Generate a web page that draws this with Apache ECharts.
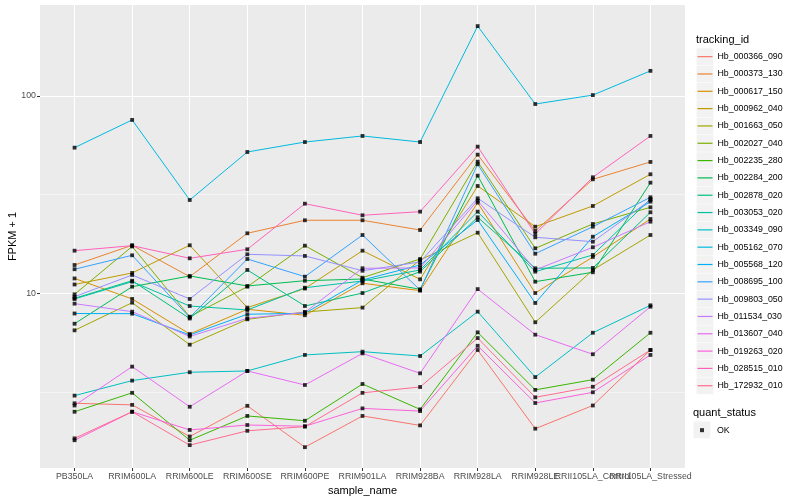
<!DOCTYPE html>
<html>
<head>
<meta charset="utf-8">
<script src="https://cdn.jsdelivr.net/npm/echarts@6/dist/echarts.min.js"></script>
<style>html,body{margin:0;padding:0;background:#fff}#c{width:800px;height:500px}</style>
</head>
<body>
<div id="c"></div>
<script>
const categories = ['PB350LA','RRIM600LA','RRIM600LE','RRIM600SE','RRIM600PE','RRIM901LA','RRIM928BA','RRIM928LA','RRIM928LE','RRII105LA_Control','RRII105LA_Stressed'];
const yTickValues = [10, 100];
const yMinorValues = [3.1623, 31.623];

const Hb_000366_090 = [2.77, 2.72, 1.88, 2.69, 1.66, 2.39, 2.14, 5.16, 2.06, 2.70, 5.16];
const Hb_000373_130 = [13.91, 17.51, 12.14, 20.14, 23.44, 23.44, 20.93, 50.4, 20.69, 37.8, 46.3];
const Hb_000617_150 = [11.89, 9.36, 6.22, 8.30, 7.74, 11.24, 10.31, 28.79, 10.03, 15.28, 23.8];
const Hb_000962_040 = [11.08, 12.68, 17.51, 8.46, 10.57, 16.44, 11.77, 34.98, 21.75, 27.7, 40.1];
const Hb_001663_050 = [6.49, 8.96, 5.49, 7.38, 8.04, 8.46, 14.75, 20.28, 7.13, 13.13, 19.74];
const Hb_002027_040 = [9.88, 17.27, 7.61, 10.80, 17.43, 12.0, 14.92, 46.45, 16.9, 22.45, 27.28];
const Hb_002235_280 = [2.51, 3.13, 1.80, 2.39, 2.26, 3.47, 2.58, 6.34, 3.24, 3.65, 6.31];
const Hb_002284_200 = [7.01, 10.80, 12.24, 10.89, 11.58, 11.81, 10.48, 39.45, 11.45, 12.78, 36.36];
const Hb_002878_020 = [9.43, 11.58, 7.45, 13.13, 8.62, 10.03, 12.87, 24.28, 13.39, 13.44, 25.74];
const Hb_003053_020 = [9.36, 11.45, 8.62, 8.23, 10.67, 11.54, 13.13, 25.92, 12.87, 15.64, 30.06];
const Hb_003349_090 = [3.03, 3.61, 3.98, 4.04, 4.87, 5.06, 4.81, 8.07, 3.76, 6.31, 8.69];
const Hb_005162_070 = [54.7, 75.6, 29.7, 52.0, 58.4, 62.7, 58.4, 226, 91.0, 101, 134];
const Hb_005568_120 = [7.90, 7.88, 6.15, 7.83, 7.92, 11.68, 13.91, 23.52, 8.93, 19.35, 29.12];
const Hb_008695_100 = [13.24, 15.58, 7.54, 14.92, 12.14, 19.74, 10.39, 45.06, 15.87, 21.75, 30.66];
const Hb_009803_050 = [9.61, 12.38, 9.36, 15.76, 15.46, 13.01, 14.41, 30.3, 19.22, 18.26, 29.7];
const Hb_011534_030 = [8.86, 8.07, 6.04, 7.47, 8.0, 13.39, 13.44, 29.5, 13.13, 17.11, 23.06];
const Hb_013607_040 = [2.70, 4.25, 2.66, 4.04, 3.43, 4.96, 3.93, 10.5, 6.17, 4.91, 8.55];
const Hb_019263_020 = [1.80, 2.51, 2.03, 2.15, 2.12, 2.61, 2.53, 5.42, 2.78, 3.15, 4.87];
const Hb_028515_010 = [16.44, 17.43, 15.04, 16.71, 28.45, 24.85, 25.92, 55.34, 19.98, 38.72, 62.7];
const Hb_172932_010 = [1.84, 2.51, 1.70, 2.01, 2.11, 3.13, 3.35, 5.93, 2.97, 3.36, 5.16];

const trackingIds = ['Hb_000366_090','Hb_000373_130','Hb_000617_150','Hb_000962_040','Hb_001663_050','Hb_002027_040','Hb_002235_280','Hb_002284_200','Hb_002878_020','Hb_003053_020','Hb_003349_090','Hb_005162_070','Hb_005568_120','Hb_008695_100','Hb_009803_050','Hb_011534_030','Hb_013607_040','Hb_019263_020','Hb_028515_010','Hb_172932_010'];
const seriesValues = [Hb_000366_090,Hb_000373_130,Hb_000617_150,Hb_000962_040,Hb_001663_050,Hb_002027_040,Hb_002235_280,Hb_002284_200,Hb_002878_020,Hb_003053_020,Hb_003349_090,Hb_005162_070,Hb_005568_120,Hb_008695_100,Hb_009803_050,Hb_011534_030,Hb_013607_040,Hb_019263_020,Hb_028515_010,Hb_172932_010];
const colors = ['#F8766D','#EA8331','#D89000','#C09B00','#A3A500','#7CAE00','#39B600','#00BB4E','#00BF7D','#00C1A3','#00BFC4','#00BAE0','#00B0F6','#35A2FF','#9590FF','#C77CFF','#E76BF3','#FA62DB','#FF62BC','#FF6C91'];
const xTickIdx = categories.map((c, i) => i);
// labels split over two overlaid axes so the overlapping last two labels both stay visible
const xLabelIdxA = xTickIdx.filter(i => i % 2 === 0);
const xLabelIdxB = xTickIdx.filter(i => i % 2 === 1);

const FONT = '"Liberation Sans", Arial, sans-serif';
const chart = echarts.init(document.getElementById('c'), null, {renderer: 'canvas'});

const lineSeries = trackingIds.map((name, k) => ({
  name: name,
  type: 'line',
  xAxisIndex: 0,
  yAxisIndex: 0,
  showSymbol: false,
  symbol: 'none',
  data: seriesValues[k].map((v, i) => [i, v]),
  lineStyle: {color: colors[k], width: 1},
  itemStyle: {color: colors[k]},
  emphasis: {disabled: true},
  z: 2
}));

const pointData = [];
seriesValues.forEach(arr => arr.forEach((v, i) => pointData.push([i, v])));

const keyRects = trackingIds.map((n, i) => ({
  type: 'rect',
  left: 696.5,
  top: 48.3 + i * 17.32,
  shape: {width: 16.8, height: 16.8},
  style: {fill: '#F2F2F2'},
  z: 0
}));
keyRects.push({type: 'rect', left: 693.5, top: 421.5, shape: {width: 16.8, height: 16.8}, style: {fill: '#F2F2F2'}, z: 0});

const xLabelStyle = {formatter: v => categories[Math.round(v)], fontSize: 8.8, color: '#4D4D4D', margin: 4, fontFamily: FONT, hideOverlap: false, showMinLabel: true, showMaxLabel: true};

chart.setOption({
  animation: false,
  backgroundColor: '#fff',
  textStyle: {fontFamily: FONT},
  title: [
    {text: 'tracking_id', left: 691, top: 29, padding: 5, textStyle: {fontSize: 11, fontWeight: 'normal', color: '#000', fontFamily: FONT}},
    {text: 'quant_status', left: 688, top: 402, padding: 5, textStyle: {fontSize: 11, fontWeight: 'normal', color: '#000', fontFamily: FONT}}
  ],
  graphic: keyRects,
  grid: {left: 40, right: 115, top: 5, bottom: 32, show: true, backgroundColor: '#EBEBEB', borderWidth: 0, containLabel: false, outerBoundsMode: 'none'},
  legend: [
    {
      data: trackingIds,
      orient: 'vertical',
      left: 692.5,
      top: 43,
      padding: 5,
      itemGap: 0,
      itemWidth: 15,
      itemHeight: 1.2,
      icon: 'rect',
      selectedMode: false,
      textStyle: {fontSize: 8.8, color: '#000', fontFamily: FONT, lineHeight: 17.32},
      z: 5
    },
    {
      data: ['OK'],
      orient: 'vertical',
      left: 695,
      top: 416.5,
      padding: 5,
      itemGap: 0,
      itemWidth: 4,
      itemHeight: 4,
      icon: 'rect',
      selectedMode: false,
      textStyle: {fontSize: 8.8, color: '#000', fontFamily: FONT, lineHeight: 17.32, padding: [0, 0, 0, 8]},
      z: 5
    }
  ],
  xAxis: [
    {
      type: 'value',
      min: -0.6,
      max: 10.6,
      position: 'bottom',
      name: 'sample_name',
      nameLocation: 'middle',
      nameGap: 17,
      nameTextStyle: {fontSize: 11, color: '#000', fontFamily: FONT},
      axisLine: {show: false, onZero: false},
      axisTick: {show: true, length: 3, lineStyle: {color: '#333', width: 1}, customValues: xTickIdx},
      axisLabel: Object.assign({customValues: xLabelIdxA}, xLabelStyle),
      splitLine: {show: true, lineStyle: {color: '#FFFFFF', width: 1.1}}
    },
    {
      type: 'value',
      min: -0.6,
      max: 10.6,
      position: 'bottom',
      offset: 0,
      axisLine: {show: false, onZero: false},
      axisTick: {show: false, customValues: xLabelIdxB},
      axisLabel: Object.assign({customValues: xLabelIdxB}, xLabelStyle),
      splitLine: {show: false}
    }
  ],
  yAxis: [
    {
      type: 'log',
      logBase: 10,
      min: 1.302,
      max: 289,
      name: 'FPKM + 1',
      nameLocation: 'middle',
      nameGap: 22,
      nameMoveOverlap: false,
      nameTextStyle: {fontSize: 11, color: '#000', fontFamily: FONT},
      axisLine: {show: false, onZero: false},
      axisTick: {show: true, length: 3, lineStyle: {color: '#333', width: 1}, customValues: yTickValues},
      axisLabel: {customValues: yTickValues, formatter: v => String(Math.round(v)), fontSize: 8.8, color: '#4D4D4D', margin: 4, fontFamily: FONT, showMinLabel: true, showMaxLabel: true},
      splitLine: {show: true, lineStyle: {color: '#FFFFFF', width: 1.1}},
      z: 1
    },
    {
      type: 'log',
      logBase: 10,
      min: 1.302,
      max: 289,
      position: 'left',
      axisLine: {show: false, onZero: false},
      axisTick: {show: false, customValues: yMinorValues},
      axisLabel: {show: false, customValues: yMinorValues},
      splitLine: {show: true, lineStyle: {color: '#FFFFFF', width: 0.5}},
      z: 0
    }
  ],
  series: lineSeries.concat([{
    name: 'OK',
    type: 'scatter',
    xAxisIndex: 0,
    yAxisIndex: 0,
    symbol: 'rect',
    symbolSize: 3.8,
    data: pointData,
    itemStyle: {color: '#000'},
    emphasis: {disabled: true},
    z: 3
  }])
});
</script>
</body>
</html>
